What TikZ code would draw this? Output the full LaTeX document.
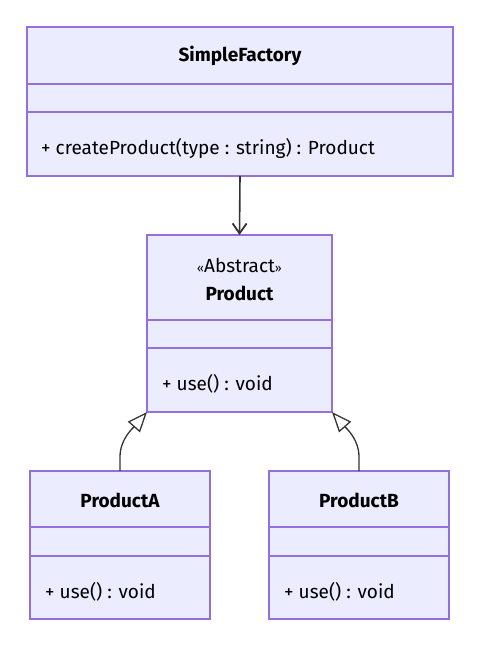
\documentclass[tikz,border=0pt]{standalone}
\usepackage{fontspec}
\setmainfont{Fira Sans}
\usetikzlibrary{arrows.meta}
\definecolor{clsfill}{HTML}{ECECFF}
\definecolor{clsline}{HTML}{9370DB}
\definecolor{edge}{HTML}{333333}
\tikzset{
  cls/.style={draw=clsline, fill=clsfill, line width=1.3pt, inner sep=0pt, outer sep=0pt},
  divline/.style={draw=clsline, line width=1.3pt},
  title/.style={font=\fontsize{19}{22}\selectfont\bfseries, text=black, inner sep=0pt},
  stereo/.style={font=\fontsize{19}{22}\selectfont, text=black, inner sep=0pt},
  member/.style={font=\fontsize{19}{22}\selectfont, text=black, inner sep=0pt, anchor=west},
  assoc/.style={draw=edge, line width=1.6pt, -{Straight Barb[length=10pt, width=14pt, line width=1.8pt]}},
  inh/.style={draw=edge, line width=1.3pt, -{Triangle[open, fill=white, length=20pt, width=16pt, line width=1.3pt]}},
}
\begin{document}
\begin{tikzpicture}[x=1pt, y=-1pt]
\useasboundingbox (0,0) rectangle (500,652);
% SimpleFactory
\node[cls, minimum width=426pt, minimum height=149pt] (sf) at (240,101.5) {};
\draw[divline] ([yshift=-57pt]sf.north west) -- ([yshift=-57pt]sf.north east);
\draw[divline] ([yshift=-85pt]sf.north west) -- ([yshift=-85pt]sf.north east);
\node[title] (sft) at (240,56) {SimpleFactory};
\node[member] (sfm) at (41,148) {+ createProduct(type : string) : Product};
% Product
\node[cls, minimum width=185pt, minimum height=177pt] (p) at (239.5,323.5) {};
\draw[divline] ([yshift=-85pt]p.north west) -- ([yshift=-85pt]p.north east);
\draw[divline] ([yshift=-113pt]p.north west) -- ([yshift=-113pt]p.north east);
\node[stereo] (ps) at (239.5,265) {{\fontsize{12}{14}\selectfont«}Abstract{\fontsize{12}{14}\selectfont»}};
\node[title] (pt) at (239.5,293) {Product};
\node[member] (pm) at (162,384) {+ use() : void};
% ProductA
\node[cls, minimum width=180pt, minimum height=148pt] (pa) at (120,545) {};
\draw[divline] ([yshift=-56pt]pa.north west) -- ([yshift=-56pt]pa.north east);
\draw[divline] ([yshift=-85pt]pa.north west) -- ([yshift=-85pt]pa.north east);
\node[title] (pat) at (120,500) {ProductA};
\node[member] (pam) at (45,592) {+ use() : void};
% ProductB
\node[cls, minimum width=180pt, minimum height=148pt] (pb) at (359,545) {};
\draw[divline] ([yshift=-56pt]pb.north west) -- ([yshift=-56pt]pb.north east);
\draw[divline] ([yshift=-85pt]pb.north west) -- ([yshift=-85pt]pb.north east);
\node[title] (pbt) at (359,500) {ProductB};
\node[member] (pbm) at (284,592) {+ use() : void};
% edges
\draw[assoc] (sf.south) -- (p.north);
\draw[inh] (pa.north) -- ++(0,-14) .. controls ++(0,-18) and ++(-14,16) .. (p.south west);
\draw[inh] (pb.north) -- ++(0,-14) .. controls ++(0,-18) and ++(14,16) .. (p.south east);
\end{tikzpicture}
\end{document}
